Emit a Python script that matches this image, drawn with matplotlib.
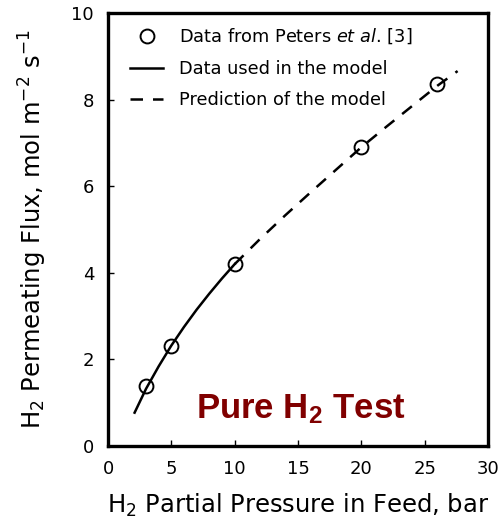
import numpy as np
import matplotlib
matplotlib.use("Agg")
import matplotlib.pyplot as plt

# experimental points (Peters et al.)
exp_p = [3, 5, 10, 20, 26]
exp_flux = [1.39, 2.31, 4.2, 6.9, 8.36]

# model curve: fitted part and prediction part
fit_p = [2.1, 3, 4, 5, 6, 7, 8, 9, 10]
fit_flux = [0.77, 1.32, 1.84, 2.32, 2.75, 3.15, 3.52, 3.87, 4.2]
pred_p = [10, 12, 14, 16, 18, 20, 22, 24, 26, 27.6]
pred_flux = [4.2, 4.78, 5.33, 5.86, 6.38, 6.9, 7.38, 7.85, 8.32, 8.66]

plt.rcParams['font.family'] = ['DejaVu Sans']
plt.rcParams['mathtext.default'] = 'regular'

fig = plt.figure(figsize=(5, 5.28), dpi=100)
ax = fig.add_axes([0.216, 0.1553, 0.76, 0.82])

ax.plot(exp_p, exp_flux, 'o', mfc='none', mec='black', ms=10, mew=1.4,
        label='Data from Peters $\\it{et\\ al}$. [3]', zorder=3)
ax.plot(fit_p, fit_flux, '-', color='black', lw=1.8, label='Data used in the model')
ax.plot(pred_p, pred_flux, '--', color='black', lw=1.8, dashes=(5, 4),
        label='Prediction of the model')

ax.set_xlim(0, 30)
ax.set_ylim(0, 10)
ax.set_xticks(np.arange(0, 31, 5))
ax.set_yticks(np.arange(0, 11, 2))
ax.tick_params(direction='in', length=4, width=1, labelsize=13, pad=10)
for s in ax.spines.values():
    s.set_linewidth(2.4)

ax.set_xlabel('H$_2$ Partial Pressure in Feed, bar', fontsize=17.5, labelpad=10)
ax.set_ylabel('H$_2$ Permeating Flux, mol m$^{-2}$ s$^{-1}$', fontsize=17.5, labelpad=16)

ax.legend(loc='upper left', frameon=False, fontsize=12.8, handlelength=1.9,
          bbox_to_anchor=(0.015, 1.005), labelspacing=0.75, handletextpad=0.9)

ax.text(15.2, 0.85, 'Pure H$_2$ Test', fontsize=25, fontweight='bold',
        family='Liberation Sans', color='#800000', ha='center', va='center')

fig.savefig('out.png', dpi=100)
